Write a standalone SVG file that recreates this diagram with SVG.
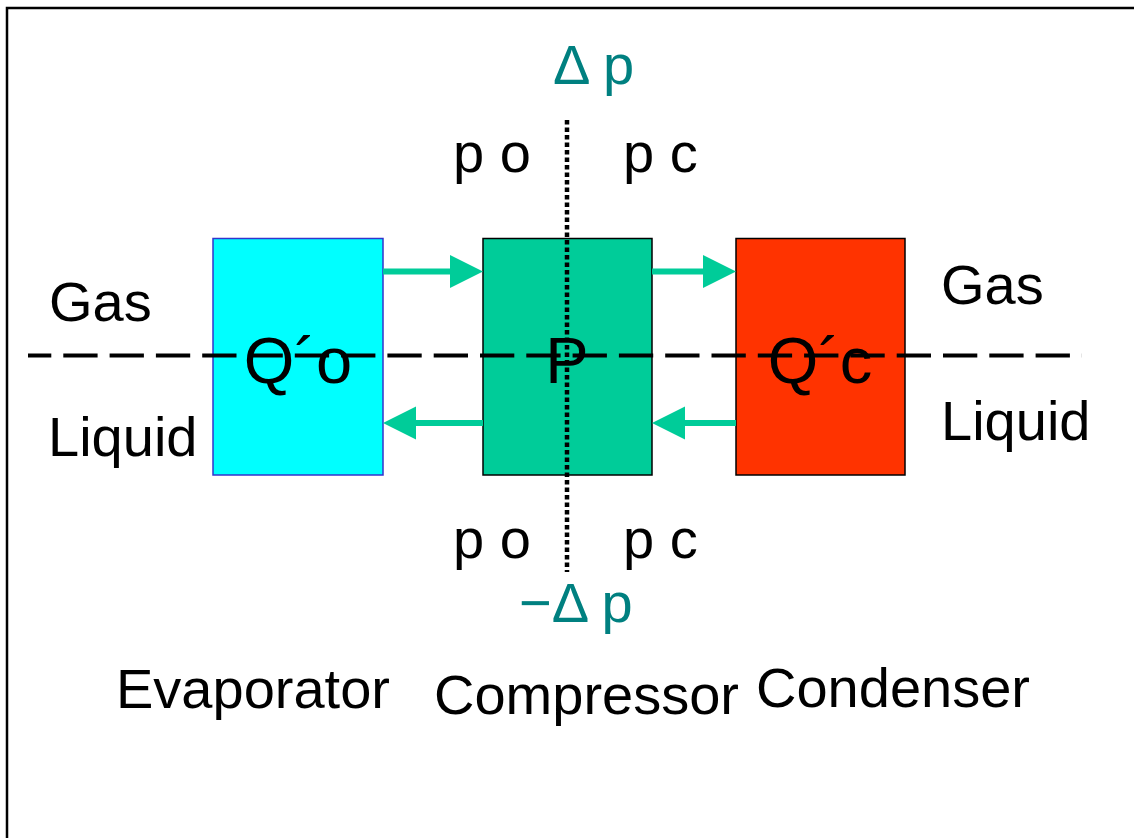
<svg xmlns="http://www.w3.org/2000/svg" width="1134" height="838" viewBox="0 0 1134 838">
<style>
text{font-family:"Liberation Sans",Arial,sans-serif;font-size:56px;fill:#000}
.big{font-size:65px;text-anchor:middle}
.teal{fill:#008080}
.box{stroke-width:1.5}
.flow{stroke:#00CC99;stroke-width:6;fill:none}
</style>
<defs>
<marker id="ah" markerUnits="userSpaceOnUse" markerWidth="33" markerHeight="34" viewBox="0 0 33 34" refX="1" refY="17" orient="auto">
<path d="M0,0.5 L33,17 L0,33.5 Z" fill="#00CC99"/>
</marker>
</defs>
<rect width="1134" height="838" fill="#fff"/>
<path d="M7,840 V8 H1140" fill="none" stroke="#000" stroke-width="2.5"/>
<g id="evaporator">
<rect class="box" x="213" y="238.5" width="170" height="236.5" fill="#00FFFF" stroke="#3333CC"/>
<text class="big" x="298" y="383">Q´o</text>
</g>
<g id="compressor">
<rect class="box" x="483" y="238.5" width="169" height="236.5" fill="#00CC99" stroke="#000"/>
<text class="big" x="567" y="383">P</text>
</g>
<g id="condenser">
<rect class="box" x="736" y="238.5" width="169" height="236.5" fill="#FF3300" stroke="#000"/>
<text class="big" x="820" y="383">Q´c</text>
</g>
<g id="connectors">
<line class="flow" x1="383" y1="271.5" x2="451" y2="271.5" marker-end="url(#ah)"/>
<line class="flow" x1="652" y1="271.5" x2="704" y2="271.5" marker-end="url(#ah)"/>
<line class="flow" x1="483" y1="423" x2="415" y2="423" marker-end="url(#ah)"/>
<line class="flow" x1="736" y1="423" x2="684" y2="423" marker-end="url(#ah)"/>
<line x1="28" y1="355.5" x2="1082" y2="355.5" stroke="#000" stroke-width="4" stroke-dasharray="34.3 12" stroke-dashoffset="11"/>
<line x1="567" y1="120" x2="567" y2="572" stroke="#000" stroke-width="4.5" stroke-dasharray="4.5 3"/>
</g>
<g id="labels">
<text class="teal" x="553" y="84">Δ p</text>
<text x="453" y="172">p o</text>
<text x="623" y="172">p c</text>
<text x="453" y="558">p o</text>
<text x="623" y="558">p c</text>
<text class="teal" x="519" y="622">−Δ p</text>
<text x="49" y="321">Gas</text>
<text x="48" y="456">Liquid</text>
<text x="941" y="304">Gas</text>
<text x="941" y="440">Liquid</text>
<text x="116" y="708">Evaporator</text>
<text x="434" y="714">Compressor</text>
<text x="756" y="707">Condenser</text>
</g>
</svg>
